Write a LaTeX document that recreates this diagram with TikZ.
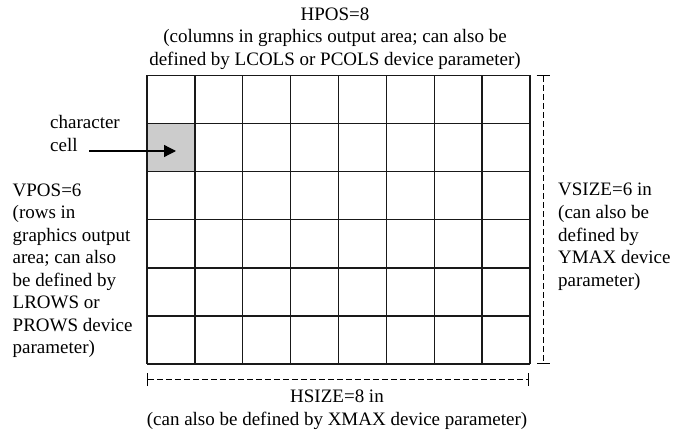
\documentclass[tikz,border=0pt]{standalone}
\usepackage{fontspec}
\setmainfont{Liberation Serif}
\usetikzlibrary{arrows.meta}
\begin{document}
\begin{tikzpicture}[x=1pt,y=-1pt,
  txt/.style={inner sep=0pt,align=left,font=\fontsize{19}{22.5}\selectfont},
  ctxt/.style={inner sep=0pt,align=center,font=\fontsize{19}{22.5}\selectfont},
  gridline/.style={line width=1.4pt,draw={black!90}},
  dim/.style={line width=1pt,dash pattern=on 6pt off 3pt,{Bar[width=13pt,line cap=butt]}-{Bar[width=13pt,line cap=butt]}},
  pointer/.style={line width=1.3pt,-{Triangle[length=12pt,width=12pt]}}]
\useasboundingbox (0,0) rectangle (674,430);
\fill[black!20] (147,123.6) rectangle (194.9,171.7);
\foreach \i in {0,...,8} {
  \draw[gridline] ({147+\i*47.875},75.5) -- ({147+\i*47.875},364);
}
\foreach \j in {0,...,6} {
  \draw[gridline] (147,{75.5+\j*48.083}) -- (530,{75.5+\j*48.083});
}
% dimension lines
\coordinate (vt) at (543,75.5);
\coordinate (vb) at (543,364);
\draw[dim] (vt) -- (vb);
\coordinate (hl) at (147,379.5);
\coordinate (hr) at (529,379.5);
\draw[dim] (hl) -- (hr);
% pointer
\coordinate (cs) at (89,151);
\coordinate (ce) at (176,151);
\draw[pointer] (cs) -- (ce);
% labels (base anchor = baseline of last line)
\node[ctxt,anchor=base] (top) at (335,65.5) {HPOS=8\\(columns in graphics output area; can also be\\defined by LCOLS or PCOLS device parameter)};
\node[txt,anchor=base west] (cc) at (50,151.5) {character\\cell};
\node[txt,anchor=base west] (vpos) at (12.5,353.5) {VPOS=6\\(rows in\\graphics output\\area; can also\\be defined by\\LROWS or\\PROWS device\\parameter)};
\node[txt,anchor=base west] (vsize) at (558,286) {VSIZE=6 in\\(can also be\\defined by\\YMAX device\\parameter)};
\node[ctxt,anchor=base] (hsize) at (337,425) {HSIZE=8 in\\(can also be defined by XMAX device parameter)};
\end{tikzpicture}
\end{document}
